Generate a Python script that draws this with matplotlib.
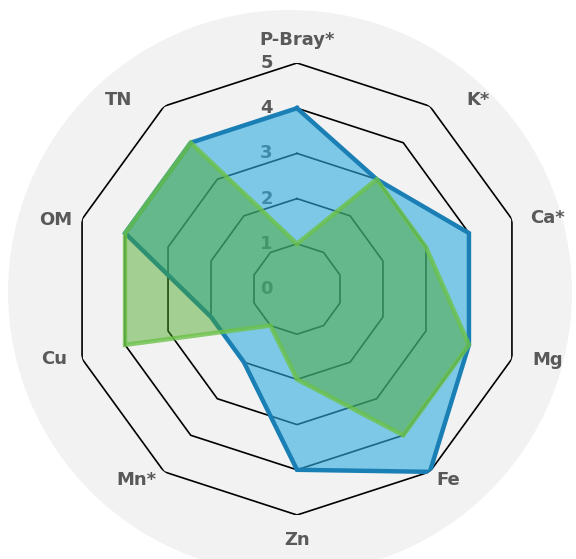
import numpy as np
import matplotlib
matplotlib.use("Agg")
import matplotlib.pyplot as plt
from matplotlib.patches import Ellipse

categories = ["P-Bray*", "K*", "Ca*", "Mg", "Fe", "Zn", "Mn*", "Cu", "OM", "TN"]
series_blue = [4, 3, 4, 4, 5, 4, 2, 2, 4, 4]
series_green = [1, 3, 3, 4, 4, 2, 1, 4, 4, 4]
ring_values = [0, 1, 2, 3, 4, 5]

# where each category name sits: (degrees clockwise from top, radius)
label_pos = [(0, 5.51), (43.8, 5.79), (74.2, 5.77), (105.8, 5.77), (141.7, 5.39),
             (180, 5.55), (220, 5.53), (254, 5.58), (286, 5.56), (316.6, 5.76)]

W, H = 576, 559
fig = plt.figure(figsize=(W / 100, H / 100), dpi=100)
fig.patch.set_facecolor("white")

# light grey disc behind the chart
fig.add_artist(Ellipse((290 / W, 1 - 292 / H), 2 * 282 / W, 2 * 282 / H,
                       transform=fig.transFigure, facecolor="#f2f2f2",
                       edgecolor="none", zorder=0))

cx, cy, R = 297, 289, 226
ax = fig.add_axes([(cx - R) / W, (H - cy - R) / H, 2 * R / W, 2 * R / H],
                  projection="polar")
ax.set_theta_offset(np.pi / 2)
ax.set_theta_direction(-1)
ax.set_ylim(0, 5)
ax.set_axis_off()

n = len(categories)
theta = np.linspace(0, 2 * np.pi, n, endpoint=False)
theta_c = np.append(theta, theta[0])

# polygon gridlines
for v in ring_values[1:]:
    ax.plot(theta_c, [v] * (n + 1), color="black", lw=1.2, zorder=1)

# value labels along the first spoke
for v in ring_values:
    ax.annotate(str(v), xy=(0, v), xytext=(-22, 0), textcoords="offset points",
                ha="center", va="center", fontsize=13, fontweight="bold",
                color="#595959", zorder=2)

blue = np.append(series_blue, series_blue[0])
green = np.append(series_green, series_green[0])

ax.fill(theta_c, blue, facecolor="#2facde", alpha=0.6, edgecolor="none", zorder=3)
ax.plot(theta_c, blue, color="#1a7fb5", lw=3.2, zorder=4, solid_joinstyle="miter")
ax.fill(theta_c, green, facecolor="#46a51e", alpha=0.45, edgecolor="none", zorder=5)
ax.plot(theta_c, green, color="#6cc24a", lw=3.2, alpha=0.8, zorder=6,
        solid_joinstyle="miter")

for name, (deg, r) in zip(categories, label_pos):
    ax.text(np.deg2rad(deg), r, name, ha="center", va="center", fontsize=13,
            fontweight="bold", color="#595959", zorder=7)

fig.savefig("out.png", dpi=100)
